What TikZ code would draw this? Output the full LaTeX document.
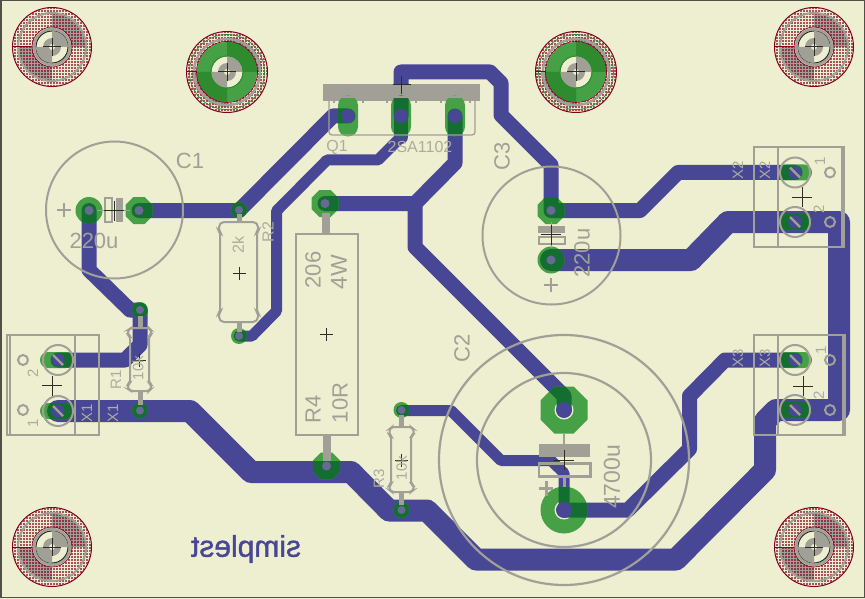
\documentclass[tikz,border=0pt]{standalone}
\usepackage{fontspec}
\setmainfont{Liberation Sans}
\newfontfamily\brandfont[FakeBold=1.2]{Liberation Sans}
\usetikzlibrary{patterns}
\pgfdeclarepatternformonly{sqdots}{\pgfqpoint{-0.7pt}{-0.7pt}}{\pgfqpoint{0.7pt}{0.7pt}}{\pgfqpoint{3pt}{3pt}}{%
 \pgfpathrectangle{\pgfqpoint{-0.6pt}{-0.6pt}}{\pgfqpoint{1.2pt}{1.2pt}}\pgfusepath{fill}}
\definecolor{boardc}{RGB}{238,238,208}
\definecolor{copperc}{RGB}{71,71,150}
\definecolor{padc}{RGB}{70,160,70}
\definecolor{padmixc}{RGB}{20,110,50}
\definecolor{padalt}{RGB}{46,139,46}
\definecolor{silkc}{RGB}{160,160,150}
\definecolor{silklt}{RGB}{172,172,160}
\definecolor{holec}{RGB}{105,105,150}
\definecolor{rimc}{RGB}{130,0,30}
\definecolor{framec}{RGB}{80,80,72}
\definecolor{crossc}{RGB}{45,45,35}
\tikzset{
 lbl/.style={text=silkc,inner sep=0pt,font=\fontsize{#1}{#1}\selectfont},
 lblr/.style={text=silkc,inner sep=0pt,rotate=90,font=\fontsize{#1}{#1}\selectfont},
 lbll/.style={text=silklt,inner sep=0pt,rotate=90,font=\fontsize{#1}{#1}\selectfont},
 silkline/.style={draw=silkc,line width=2pt},
 crossline/.style={draw=crossc,line width=1pt},
}
\newcommand{\octo}[3]{%
 ({#1-#3},{#2-0.414*#3}) -- ({#1-0.414*#3},{#2-#3}) -- ({#1+0.414*#3},{#2-#3}) -- ({#1+#3},{#2-0.414*#3}) --
 ({#1+#3},{#2+0.414*#3}) -- ({#1+0.414*#3},{#2+#3}) -- ({#1-0.414*#3},{#2+#3}) -- ({#1-#3},{#2+0.414*#3}) -- cycle }
\newcommand{\ovalh}[2]{ [rounded corners=7.9pt] ({#1-17},{#2-8}) rectangle ({#1+17},{#2+8}) [sharp corners] }
\newcommand{\ovalv}[2]{ [rounded corners=9.9pt] ({#1-10},{#2-20.5}) rectangle ({#1+10},{#2+20.5}) [sharp corners] }
\newcommand{\allpads}{
 \ovalh{57}{360} \ovalh{57}{411}
 \ovalh{795}{172.5} \ovalh{795}{222}
 \ovalh{795}{360} \ovalh{795}{410}
 \ovalv{348}{116} \ovalv{401}{116} \ovalv{455}{116}
 (89,210.5) circle (13.5pt)
 \octo{139}{210.5}{13.5}
 \octo{551}{210.5}{13.5}
 (551,260) circle (13.5pt)
 \octo{325}{203.5}{13.5}
 \octo{326.5}{466}{13.5}
 \octo{564}{410}{23.5}
 (564,510) circle (23.5pt)
 (239,210) circle (8pt) (239,336) circle (8pt)
 (140,310) circle (8pt) (140,410.5) circle (8pt)
 (401.5,410) circle (8pt) (401.5,510) circle (8pt)
}
\newcommand{\alltraces}[1]{
 \begin{scope}[draw=#1,line cap=round,line join=round]
  \draw[line width=15pt] (139,210.5) -- (239,210.5) -- (333,116) -- (348,116);
  \draw[line width=15pt] (401,116) -- (401,72) -- (490,72) -- (501,83) -- (501,115) -- (551,165) -- (551,210.5) -- (640,210.5) -- (678,172.5) -- (795,172.5);
  \draw[line width=14pt] (401,116) -- (401,137);
  \draw[line width=11pt] (401,137) -- (378,160) -- (327,160) -- (276.5,211) -- (276.5,311) -- (252,336) -- (239,336);
  \draw[line width=15pt] (455,116) -- (455,163) -- (415,203.5) -- (325,203.5);
  \draw[line width=15pt] (415,203.5) -- (415,247) -- (564,396) -- (564,410);
  \draw[line width=22pt] (551,260) -- (691,260) -- (728,222) -- (839,222) -- (839,410) -- (776,410) -- (765,421) -- (765,470) -- (676,559.5) -- (476,559.5) -- (427,510.5) -- (389,510.5) -- (351,472) -- (251,472) -- (190,411) -- (58,411);
  \draw[line width=15pt] (564,510) -- (628,510) -- (689.5,449) -- (689.5,396) -- (725,360) -- (795,360);
  \draw[line width=11pt] (401.5,410.5) -- (451,410.5) -- (501,460.5) -- (551,460.5) -- (564,473) -- (564,510);
  \draw[line width=15pt] (58,360) -- (125,360) -- (140,345) -- (140,310) -- (130,310) -- (89,270) -- (89,210.5);
 \end{scope}
}
\newcommand{\quarters}[1]{\clip (0,0) rectangle (#1,-#1) (0,0) rectangle (-#1,#1);}
\newcommand{\holecore}{
 \begin{scope}\quarters{16}\fill[silkc] (0,0) circle (16pt);\end{scope}
 \fill[silkc] (0,0) circle (9pt);
 \fill[boardc] (0,0) circle (3pt);
 \draw[crossline] (-9,0) -- (9,0) (0,-9) -- (0,9);
}
\newcommand{\mountc}[2]{
 \begin{scope}[shift={(#1,#2)}]
  \fill[boardc] (0,0) circle (39pt);
  \begin{scope}\quarters{35}\fill[silkc] (0,0) circle (34.5pt);\end{scope}
  \fill[pattern=sqdots,pattern color=rimc] (0,0) circle (39pt);
  \draw[rimc,line width=1pt] (0,0) circle (39.5pt);
  \draw[silkc,line width=2pt] (0,0) circle (34pt);
  \draw[rimc,line width=1pt] (-40,0) -- (-19,0);
  \fill[boardc] (0,0) circle (19.5pt);
  \draw[rimc,line width=0.6pt] (0,0) circle (20pt);
  \draw[silkc,line width=2.4pt] (0,0) circle (18pt);
  \draw[black!85,line width=1pt] (0,0) circle (16pt);
  \holecore
 \end{scope}
}
\newcommand{\mountg}[2]{
 \begin{scope}[shift={(#1,#2)}]
  \fill[boardc] (0,0) circle (40pt);
  \begin{scope}\quarters{36}\fill[silkc] (0,0) circle (35pt);\end{scope}
  \fill[pattern=sqdots,pattern color=rimc] (0,0) circle (40pt);
  \draw[rimc,line width=1pt] (0,0) circle (40.5pt);
  \draw[padc!80!black,line width=0.7pt] (0,0) circle (37.5pt);
  \draw[silkc,line width=2.4pt] (0,0) circle (33pt);
  \fill[padc] (0,0) circle (30pt);
  \begin{scope}\quarters{31}\fill[padalt] (0,0) circle (30pt);\end{scope}
  \draw[rimc,line width=0.6pt] (0,0) circle (30.5pt);
  \draw[rimc,line width=1pt] (-41,0) -- (-30,0);
  \fill[boardc] (0,0) circle (15.5pt);
  \draw[padalt,line width=1pt] (0,0) circle (16pt);
  \begin{scope}\clip (0,0) circle (15.5pt);\quarters{16}\fill[silkc] (0,0) circle (15.5pt);\end{scope}
  \fill[silkc] (0,0) circle (9pt);
  \fill[boardc] (0,0) circle (3pt);
  \draw[crossline] (-9,0) -- (9,0) (0,-9) -- (0,9);
 \end{scope}
}
\newcommand{\hole}[3]{\fill[holec] (#1,#2) circle (#3pt);}
\newcommand{\bluehole}[3]{\fill[copperc] (#1,#2) circle (#3pt);}
\newcommand{\crossat}[3]{\draw[crossline] ({#1-#3},#2) -- ({#1+#3},#2) (#1,{#2-#3}) -- (#1,{#2+#3});}
\newcommand{\slot}[2]{
 \bluehole{#1}{#2}{6.5}
 \draw[silkc,line width=2.2pt] ({#1-5},{#2-5}) -- ({#1+5},{#2+5});
 \draw[silkc,line width=2pt] (#1,#2) circle (15pt);
}
\begin{document}
\begin{tikzpicture}[x=1pt,y=-1pt]
\useasboundingbox (0,0) rectangle (865,599);
\fill[boardc] (0,0) rectangle (865,599);
\draw[framec,line width=1.5pt] (1,0.7) rectangle (864.3,597.6);
% copper
\alltraces{copperc}
% gate bar of the transistor
\fill[silkc] (323,84) rectangle (480,100.7);
% pads
\fill[padc] \allpads;
\fill[boardc] (564,410) circle (9.5pt) (564,510) circle (9.5pt);
\begin{scope}
 \clip \allpads;
 \alltraces{padmixc}
\end{scope}
% holes
\bluehole{348}{116}{7}\bluehole{401}{116}{7}\bluehole{455}{116}{7}
\bluehole{564}{410}{8}\bluehole{564}{510}{8}
\hole{89}{210.5}{4.5}\hole{139}{210.5}{4.5}
\hole{551}{210.5}{4.5}\hole{551}{260}{4.5}
\hole{325}{203.5}{4.5}\hole{326.5}{466}{4.5}
\hole{239}{210}{4}\hole{239}{336}{4}
\hole{140}{310}{4}\hole{140}{410.5}{4}
\hole{401.5}{410}{4}\hole{401.5}{510}{4}
% mounting holes
\mountc{52}{47}\mountc{814}{47}\mountc{52}{547}\mountc{814}{547}
\mountg{227}{72}\mountg{576}{72}
% screw terminals
\slot{58}{360}\slot{58}{411}\slot{795}{172.5}\slot{795}{222}\slot{795}{360}\slot{795}{410}
\draw[silkline] (7,335) rectangle (99,435) (10,335) -- (10,435) (75,335) -- (75,435);
\draw[silkline] (23,360) circle (5pt) (23,410) circle (5pt);
\draw[silkline] (754,147) rectangle (844,247) (842,147) -- (842,247) (778,147) -- (778,247);
\draw[silkline] (830,172.5) circle (5pt) (830,222) circle (5pt);
\draw[silkline] (754,335) rectangle (845,435) (843,335) -- (843,435) (778,335) -- (778,435);
\draw[silkline] (830,360) circle (5pt) (830,410) circle (5pt);
\crossat{52}{385.5}{10}\crossat{802}{197}{10}\crossat{803}{386}{10}
% transistor outline
\draw[silkc,line width=1.3pt,rounded corners=3pt] (329,100) -- (329,135) -- (475,135) -- (475,100);
\draw[silkc,line width=1.1pt] (334,103) -- (334,97) -- (363,97) -- (363,103)
  (387,103) -- (387,97) -- (416,97) -- (416,103)
  (441,103) -- (441,97) -- (470,97) -- (470,103);
\crossat{401.5}{85}{9}
% C1
\draw[silkline] (114.5,210) circle (68.5pt);
\draw[silkc,line width=1pt] (97,210.5) -- (105,210.5) (123,210.5) -- (130,210.5);
\draw[silkline] (105,197.5) rectangle (111.5,222);
\fill[silkc] (116,198) rectangle (123,222);
\crossat{114}{210.5}{10}
\draw[silkc,line width=2.2pt] (57,210) -- (71,210) (64,203) -- (64,217);
% C3
\draw[silkline] (551.5,235.5) circle (69pt);
\draw[silkc,line width=1pt] (551,222) -- (551,226) (551,243) -- (551,248);
\fill[silkc] (538,226) rectangle (565,233);
\draw[silkline] (538.5,236.5) rectangle (564.5,243.5);
\crossat{551}{234.5}{10}
\draw[silkc,line width=2.2pt] (544,285) -- (558,285) (551,278) -- (551,292);
% C2
\draw[silkline,line width=2.2pt] (564,460) circle (125pt);
\draw[silkline,line width=2.2pt] (564,460) circle (87pt);
\draw[silkc,line width=1.5pt] (564,433) -- (564,444);
\fill[silkc] (539,444) rectangle (590,457);
\draw[silkline,line width=2.4pt] (539,463.5) rectangle (590.5,476.5);
\draw[silkc,line width=3pt] (564,477) -- (564,487);
\crossat{564}{460}{10}
\draw[silkc,line width=3pt] (538.5,488) -- (553,488) (546,480.5) -- (546,495.5);
% resistors
\draw[silkc,line width=5pt] (239,214) -- (239,222) (239,322) -- (239,332);
\draw[silkline,rounded corners=2pt] (222,222) -- (255,222) -- (258,225) -- (258,231) -- (257,232) -- (257,312) -- (258,313) -- (258,319) -- (255,322) -- (222,322) -- (219,319) -- (219,313) -- (220,312) -- (220,232) -- (219,231) -- (219,225) -- cycle;
\crossat{239}{273}{6.5}
\draw[silkc,line width=5pt] (140,316) -- (140,328) (140,391) -- (140,405);
\draw[silkline,rounded corners=2pt] (131,328) -- (149,328) -- (151,330) -- (151,335) -- (149,336) -- (149,383) -- (151,384) -- (151,389) -- (149,391) -- (131,391) -- (128,389) -- (128,384) -- (130,383) -- (130,336) -- (128,335) -- (128,330) -- cycle;
\crossat{139.5}{360}{6.5}
\draw[silkc,line width=5pt] (401.5,415) -- (401.5,427) (401.5,492) -- (401.5,505);
\draw[silkline,rounded corners=2pt] (392,427) -- (411,427) -- (413.5,429) -- (413.5,435) -- (411,436) -- (411,484) -- (413.5,485) -- (413.5,490) -- (411,492) -- (392,492) -- (389.5,490) -- (389.5,485) -- (391,484) -- (391,436) -- (389.5,435) -- (389.5,429) -- cycle;
\crossat{401.5}{460}{6.5}
\draw[silkc,line width=8pt] (326,213) -- (326,234) (326.5,435) -- (326.5,461);
\draw[silkline] (295.5,234) rectangle (358,435);
\crossat{326}{334}{6.5}
% labels
\node[lbl=22] (tC1) at (190,160.5) {C1};
\node[lbl=22] (vC1) at (94,240.5) {220u};
\node[lblr=22] (tC3) at (502,156) {C3};
\node[lblr=22] (vC3) at (582,253) {220u};
\node[lblr=22] (tC2) at (462,348) {C2};
\node[lblr=23] (vC2) at (612,477) {4700u};
\node[lblr=22] (tR4a) at (313,270) {206};
\node[lblr=23] (tR4b) at (339,272) {4W};
\node[lblr=22] (tR4c) at (313,409) {R4};
\node[lblr=22] (tR4d) at (340,403) {10R};
\node[lbll=16] (tR2) at (268,232) {R2};
\node[lbll=16] (vR2) at (238,245) {2k};
\node[lbll=15] (tR1) at (116,380) {R1};
\node[lbll=15] (vR1) at (138,368) {10k};
\node[lbll=15] (tR3) at (379,479) {R3};
\node[lbll=15] (vR3) at (401.5,468) {10k};
\node[lbl=16,text=silklt] (tQ1) at (337,147) {Q1};
\node[lbl=16,text=silklt] (vQ1) at (420,147) {2SA1102};
\node[lbll=15] (x1a) at (87,413) {X1};
\node[lbll=15] (x1b) at (113,413) {X1};
\node[lbll=15] (x2a) at (738,170) {X2};
\node[lbll=15] (x2b) at (765,170) {X2};
\node[lbll=15] (x3a) at (738,358) {X3};
\node[lbll=15] (x3b) at (765,358) {X3};
\node[lbll=15] (n1a) at (33,423) {1};
\node[lbll=15] (n1b) at (33,373) {2};
\node[lbll=15] (n2a) at (820,161) {1};
\node[lbll=15] (n2b) at (819,209) {2};
\node[lbll=15] (n3a) at (821,350) {1};
\node[lbll=15] (n3b) at (819,395) {2};
\node[text=copperc,inner sep=0pt,xscale=-1,font=\brandfont\fontsize{30}{30}\selectfont] (brand) at (246,549) {simplest};
\end{tikzpicture}
\end{document}
